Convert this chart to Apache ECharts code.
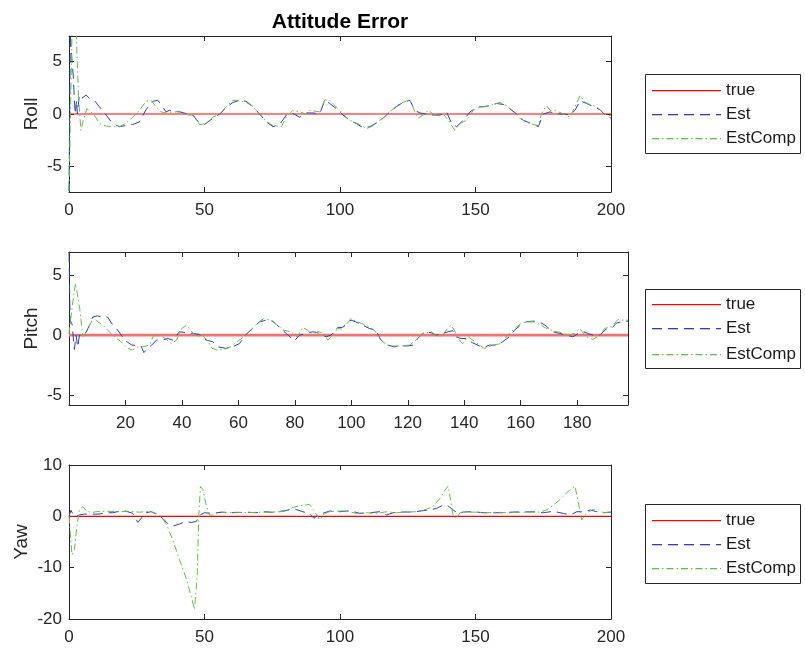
<!DOCTYPE html>
<html>
<head>
<meta charset="utf-8">
<script src="https://cdn.jsdelivr.net/npm/echarts@6/dist/echarts.min.js"></script>
<style>html,body{margin:0;padding:0;background:#fff;}#c{width:805px;height:652px;}</style>
</head>
<body>
<div id="c"></div>
<script>
// ---------- data ----------
const titleText = 'Attitude Error';
const seriesNames = ['true', 'Est', 'EstComp'];
const panelNames = ['Roll', 'Pitch', 'Yaw'];

const xRangeRoll = [0, 200];
const xRangePitch = [0, 198];
const xRangeYaw = [0, 200];
const yRangeRoll = [-7.4, 7.4];
const yRangePitch = [-5.8, 6.9];
const yRangeYaw = [-20, 10];

const xTicksRoll = [0, 50, 100, 150, 200];
const xTicksPitch = [20, 40, 60, 80, 100, 120, 140, 160, 180];
const xTicksYaw = [0, 50, 100, 150, 200];
const yTicksRoll = [-5, 0, 5];
const yTicksPitch = [-5, 0, 5];
const yTicksYaw = [-20, -10, 0, 10];

const trueRoll = [[0, 0], [200, 0]];
const truePitch = [[0, 0], [198, 0]];
const trueYaw = [[0, 0], [200, 0]];

const rollEst = [[0,-7.3],[0.5,7.6],[1.1,5.1],[1.6,3.5],[2.0,1.3],[2.3,0],[2.8,1.3],[3.1,0],[3.8,1.8],[4.8,1.5],[6.3,1.8],[7.5,1.5],[9.3,1.3],[11.3,0.66],[13.7,-0.1],[16.1,-0.9],[18.6,-1.2],[21,-1.1],[23.5,-1.0],[26,-0.75],[28.4,0.4],[30.9,1.2],[32.8,1.3],[34.6,0.66],[35.8,0.2],[37,0.35],[40.8,0.2],[43.2,0.05],[45.7,-0.1],[48.2,-0.9],[50,-1.0],[53.1,-0.4],[55.6,0],[58,0.6],[60.5,1.1],[63,1.3],[65.4,1.2],[67.9,0.7],[70.3,0],[72.8,-0.75],[75.3,-1.2],[77.7,-1.0],[80.2,-0.1],[82.6,0.05],[85.1,-0.3],[87.6,0.1],[90,0.1],[92.5,0],[94.4,1.3],[96.2,1.0],[98.7,0.5],[101.1,-0.1],[103.6,-0.6],[106,-0.9],[108.5,-1.3],[111,-1.2],[113.5,-0.85],[115.9,-0.4],[118.4,0.2],[120.8,0.7],[123.3,1.1],[125.8,1.3],[127.6,0.35],[129.5,0.1],[131.9,0],[134.4,-0.1],[136.9,-0.1],[139.3,0.2],[141.2,-0.9],[143,-1.2],[145.5,-0.6],[148,0.2],[150.4,0.65],[152.9,0.7],[155.4,0.8],[157.8,1.0],[160.3,0.9],[162.7,0.5],[165.2,0],[167.7,-0.6],[170.1,-0.85],[173.2,-1.2],[175,0],[177.5,0.2],[180,0],[182.4,0],[184.9,-0.1],[186.7,0.35],[188.6,1.25],[191,1.0],[193.5,0.7],[196,0.4],[197.8,-0.1],[200,-0.4]];

const rollComp = [[0,-7.3],[1.2,9],[2.5,9],[3.5,1.6],[4.4,-1.55],[5.3,-0.6],[6.6,0.5],[9.3,-0.1],[11.3,-0.9],[13.7,-1.15],[16.1,-1.2],[18.6,-1.2],[21,-0.9],[23.5,-0.3],[26,0.35],[28.4,1.2],[30.3,1.3],[32.2,0.65],[34,0.2],[35.8,0.1],[38.3,0.2],[41.4,0.2],[43.2,-0.1],[45.7,-0.1],[48.2,-1.0],[50.6,-0.9],[53.1,-0.3],[55.6,0],[58,0.7],[60.5,1.3],[62.3,1.3],[65.4,1.1],[67.9,0.7],[70.3,0],[72.8,-0.7],[75.3,-1.1],[78.4,-1.2],[80.2,-0.3],[82.6,0.35],[85.1,0.2],[87.6,0],[88.8,0.35],[92.5,0.2],[94.4,1.35],[96.2,1.3],[98.7,0.65],[101.1,0],[103.6,-0.6],[107.3,-1.0],[109.8,-1.4],[112.3,-1.1],[114.7,-0.6],[117.2,-0.1],[119.6,0.5],[122.1,1.0],[125.8,1.35],[127.6,0.2],[128.8,-0.4],[131.3,0],[132.5,0.35],[134.4,0],[136.3,-0.2],[138.1,0],[140,-0.6],[142.4,-1.55],[144.3,-0.9],[146.7,-0.6],[149.2,0.35],[151.6,0.65],[154,0.7],[156.5,0.9],[159,1.1],[161.5,0.8],[164,0.2],[166.5,-0.45],[169,-0.8],[171.5,-1.0],[173.2,-1.1],[174.3,0],[176.2,0.8],[177.5,0.35],[179.4,0.35],[182.4,0],[184.9,-0.3],[186.7,0.7],[188.6,1.75],[190.4,1.1],[192.3,0.9],[194.7,0.7],[197.2,0.1],[198.9,-0.2],[200,-0.1]];

const pitchEst = [[0,6.9],[0.4,1.24],[1.1,0.9],[1.9,-1.2],[2.5,0],[3.1,-1.0],[3.7,0],[5.5,0],[7.3,0.83],[8.4,1.5],[10,1.6],[11.8,1.5],[13.7,1.5],[15.5,0.83],[17.3,0.4],[18.5,0],[20.2,-0.5],[22.3,-0.83],[24.4,-0.85],[25.5,-0.9],[26.5,-1.45],[27.9,-1.1],[29.1,-0.87],[31,-0.41],[33.2,-0.41],[35,-0.28],[36.8,-0.41],[39.1,0.28],[41.5,0.2],[43.8,0.14],[46.2,0.06],[48.6,-0.41],[50.9,-0.55],[52.7,-0.97],[55.6,-1.1],[58,-0.97],[60.4,-0.7],[62.7,0.06],[65.1,0.55],[67.4,1.1],[69.8,1.24],[72.2,1.16],[74.6,0.64],[76.9,0.14],[79.9,-0.47],[81.6,0],[84,0.14],[86.3,0.28],[88.1,0.2],[91.1,-0.14],[92.8,0],[95.2,0.64],[96.9,0.64],[98.7,1.1],[99.9,1.24],[101.6,1.1],[104,0.83],[106.4,0.55],[108.7,0.41],[110.5,-0.41],[112.9,-0.83],[115.2,-0.97],[117.6,-0.9],[120,-0.9],[121.8,-0.83],[123.5,-0.28],[125.9,0.28],[128.3,0.2],[130,0],[132.4,0.14],[134.2,0.28],[135.9,0.36],[137.1,-0.14],[138.9,-0.28],[140.7,-0.28],[143,-0.64],[145.4,-0.9],[147.1,-1.0],[148.9,-0.83],[151.3,-0.83],[153.6,-0.55],[156,-0.14],[157.8,0.41],[159.6,0.76],[161.9,1.1],[164.3,1.16],[166.7,1.1],[169,0.76],[171.4,0.28],[173.8,0.14],[176.1,0],[178.5,-0.14],[180.3,0.14],[182.1,0.28],[183.8,0.14],[185.6,0],[188,0],[190.3,0.5],[192.1,0.55],[193.9,1.0],[195.7,1.1],[198,1.16]];

const pitchComp = [[0,0.1],[1.2,2.5],[2.3,4.3],[3.7,2.4],[4.9,-0.1],[6.1,0.1],[7.3,0.83],[8.8,1.5],[10.2,1.1],[12,0.83],[13.7,0.41],[16.1,-0.14],[18.5,-0.55],[20.8,-1.1],[22.6,-1.24],[24.4,-0.97],[26.1,-0.97],[28.5,-0.83],[29.7,-0.14],[30.9,0.14],[32.7,-0.07],[34.5,-0.35],[36.3,-0.7],[38.1,-0.41],[39.9,0.55],[41.7,0.83],[43.5,0.28],[45.3,-0.14],[47.1,0],[48.9,-0.41],[50.7,-1.1],[52.5,-1.24],[54.8,-1.2],[57.2,-0.97],[59.6,-0.55],[61.9,-0.14],[64.3,0.41],[66.7,0.97],[69,1.38],[71.4,1.24],[73.8,0.83],[76.1,0.41],[78.5,0.28],[80.9,-0.14],[82.7,0.64],[84.5,0.41],[86.3,0],[88.1,0.3],[89.5,0.2],[91.7,-0.41],[93.4,0],[95.2,0.55],[96.9,0.5],[99.9,1.38],[102.2,1.1],[105.2,0.83],[108.1,0.41],[111.1,-0.55],[113.5,-0.9],[117,-0.9],[120.6,-0.83],[122.9,-0.41],[125.3,0.14],[128.3,0.28],[130.6,-0.14],[132.4,0],[133.6,0.41],[135.3,0.83],[136.5,0.41],[137.7,-0.28],[139.5,-0.7],[141.3,-0.14],[143,-0.41],[145.4,-0.83],[147.1,-1.1],[150.1,-0.83],[153,-0.7],[155.4,0],[157.8,0.55],[160.1,0.97],[162.5,1.1],[165.5,1.1],[168.4,0.64],[171.4,0.36],[174.4,0.2],[176.7,0],[179.1,0.14],[180.9,0.55],[183.2,-0.14],[185.6,-0.35],[188,0],[189.7,0.55],[192.1,0.7],[194.5,1.3],[196.3,1.24],[198,1.24]];

const yawEst = [[0,0],[0.7,1.2],[1.6,0.26],[2.6,0],[3.8,0.26],[5.7,0.45],[8.1,0.4],[11.1,0.45],[13.7,0.7],[16.1,0.7],[18.6,1.0],[21,1.0],[23.5,0.6],[25.4,-1.2],[26.6,-0.4],[28.4,0.7],[30.3,0.9],[32.2,0.45],[34.6,-0.4],[36.4,-1.4],[38.3,-1.9],[40.8,-1.5],[43.2,-1.0],[45.1,-1.2],[47,-1.0],[48.2,0.26],[50,0.7],[51.8,0.6],[54.3,0.7],[57,0.8],[60,0.7],[63,0.75],[66,0.8],[69,0.7],[72,0.9],[75,0.8],[78,1.0],[80,1.1],[82.6,1.55],[86.3,0.9],[88.8,0.5],[90.4,-0.4],[91.8,0.26],[93.6,0.58],[96.2,1.03],[99.9,0.9],[103.6,1.1],[107.3,0.58],[111,0.7],[114.7,0.9],[117.2,0.26],[119.6,0.7],[123.3,0.84],[127,0.84],[130.7,1.1],[133.2,1.23],[135.6,1.55],[138.1,2.2],[139.9,2.0],[141.8,1.23],[143.6,0.58],[145.5,0.84],[149.2,0.9],[152.9,0.7],[156.6,0.7],[160.3,0.7],[164,0.84],[167.7,0.84],[171.4,0.9],[175,0.7],[178.7,0.97],[182.4,0.58],[184.9,0.26],[187.4,0.9],[189.8,0.9],[192.3,1.23],[194.8,0.9],[197.3,0.7],[200,0.84]];

const yawComp = [[0,0],[1.1,-7.5],[2,-6.5],[2.9,-2.0],[3.8,1.2],[5,1.9],[6.3,1.2],[8.1,0.7],[10,0.9],[14,1.0],[18,0.9],[22,1.0],[26,0.8],[30,1.0],[33.4,0.3],[35.8,-1.4],[38.3,-4.6],[40.8,-8.5],[43.2,-12.0],[45.1,-15.6],[46.3,-18.1],[47.3,-11.7],[47.9,0],[48.5,5.8],[49.4,5.25],[50.6,2.2],[51.8,0.26],[53.6,0.26],[55.6,0.9],[58,0.7],[62,0.8],[66,0.7],[70,0.8],[74,0.8],[78,0.9],[80.5,1.0],[82.6,1.75],[86.3,2.2],[88.8,2.3],[90.7,0.9],[92.5,-0.7],[94.4,0.58],[96.2,0.9],[98.7,1.03],[102.4,1.03],[106.1,0.58],[109.8,0.7],[113.5,0.58],[117.2,0.9],[120.8,0.7],[124.5,0.84],[128.2,0.9],[131.9,1.36],[134.4,2.0],[136.9,3.5],[138.7,5.1],[139.9,5.9],[140.8,3.2],[141.8,-0.07],[143,-0.4],[144.3,0.7],[146.7,0.84],[150,0.8],[154,0.7],[158,0.8],[162,0.7],[166,0.8],[170,0.8],[173.8,0.84],[176.2,1.23],[178.7,2.2],[181.1,3.2],[183.6,4.6],[186.7,5.9],[187.9,2.85],[189.2,-0.7],[191,0.7],[193.5,1.36],[195.4,1.23],[197.3,0.7],[200,0.84]];

// ---------- styling / layout ----------
const FONT = '"Liberation Sans", Arial, Helvetica, sans-serif';
const AX = '#262626';
const C_TRUE = '#ff0000';
const C_EST = '#2643bd';
const C_COMP = '#5ec43a';
const DASH = [10, 6];
const DASHDOT = [7, 3, 1.5, 3];

const panels = [
  {name: panelNames[0], grid: {left: 69, top: 36, width: 542, height: 156}, xr: xRangeRoll, yr: yRangeRoll, xt: xTicksRoll, yt: yTicksRoll, tr: trueRoll, est: rollEst, comp: rollComp, nameGap: 27.5, trueStyle: {color: C_TRUE, width: 1.2}},
  {name: panelNames[1], grid: {left: 69, top: 252, width: 559, height: 153}, xr: xRangePitch, yr: yRangePitch, xt: xTicksPitch, yt: yTicksPitch, tr: truePitch, est: pitchEst, comp: pitchComp, nameGap: 27.5, trueStyle: {color: '#f07272', width: 2.6}},
  {name: panelNames[2], grid: {left: 69, top: 465, width: 542, height: 154}, xr: xRangeYaw, yr: yRangeYaw, xt: xTicksYaw, yt: yTicksYaw, tr: trueYaw, est: yawEst, comp: yawComp, nameGap: 38, trueStyle: {color: C_TRUE, width: 1.2}}
];

const legendStyles = [
  {color: C_TRUE, dash: null},
  {color: C_EST, dash: DASH},
  {color: C_COMP, dash: DASHDOT}
];

// filled segments for the legend samples
function sampleSegments(x0, x1, dash) {
  if (!dash) return [[x0, x1]];
  const segs = [];
  let x = x0, k = 0;
  while (x < x1) {
    const len = dash[k % dash.length];
    if (k % 2 === 0) segs.push([x, Math.min(x + len, x1)]);
    x += len; k++;
  }
  return segs;
}

const grids = [], xAxes = [], yAxes = [], series = [], graphics = [];
const boxTops = [74, 289, 504];

panels.forEach((p, i) => {
  grids.push(Object.assign({containLabel: false}, p.grid));
  const common = {
    gridIndex: i, type: 'value', splitLine: {show: false},
    axisLine: {show: true, onZero: false, lineStyle: {color: AX, width: 1}},
  };
  xAxes.push(Object.assign({}, common, {
    position: 'bottom', min: p.xr[0], max: p.xr[1],
    axisTick: {show: true, inside: true, length: 5, lineStyle: {color: AX}, customValues: p.xt},
    axisLabel: {show: true, color: AX, fontSize: 17, fontFamily: FONT, margin: 10, customValues: p.xt, formatter: v => String(v)}
  }));
  xAxes.push(Object.assign({}, common, {
    position: 'top', min: p.xr[0], max: p.xr[1],
    axisTick: {show: true, inside: true, length: 5, lineStyle: {color: AX}, customValues: p.xt},
    axisLabel: {show: false}
  }));
  yAxes.push(Object.assign({}, common, {
    position: 'left', min: p.yr[0], max: p.yr[1],
    name: p.name, nameLocation: 'middle', nameGap: p.nameGap, nameMoveOverlap: false,
    nameTextStyle: {color: AX, fontSize: 19, fontFamily: FONT},
    axisTick: {show: true, inside: true, length: 5, lineStyle: {color: AX}, customValues: p.yt},
    axisLabel: {show: true, color: AX, fontSize: 17, fontFamily: FONT, margin: 7, customValues: p.yt, formatter: v => String(v)}
  }));
  yAxes.push(Object.assign({}, common, {
    position: 'right', min: p.yr[0], max: p.yr[1],
    axisTick: {show: true, inside: true, length: 5, lineStyle: {color: AX}, customValues: p.yt},
    axisLabel: {show: false}
  }));
  const xi = i * 2, yi = i * 2;
  const base = {type: 'line', xAxisIndex: xi, yAxisIndex: yi, showSymbol: false, symbol: 'none', clip: true, animation: false, silent: true};
  series.push(Object.assign({}, base, {name: seriesNames[1], data: p.est, lineStyle: {color: C_EST, width: 1, type: DASH}, itemStyle: {color: C_EST}, z: 3}));
  series.push(Object.assign({}, base, {name: seriesNames[2], data: p.comp, lineStyle: {color: C_COMP, width: 1, type: DASHDOT}, itemStyle: {color: C_COMP}, z: 4}));
  series.push(Object.assign({}, base, {name: seriesNames[0], data: p.tr, lineStyle: Object.assign({type: 'solid'}, p.trueStyle), itemStyle: {color: C_TRUE}, z: 2}));

  // legend box drawn by hand
  const bt = boxTops[i];
  graphics.push({type: 'rect', z: 10, shape: {x: 645.5, y: bt + 0.5, width: 155, height: 79}, style: {fill: '#ffffff', stroke: AX, lineWidth: 1}});
  seriesNames.forEach((nm, k) => {
    const cy = bt + 15.5 + k * 24.5;
    const ry = 2 * Math.round((cy - 0.5) / 2);
    const ls = legendStyles[k];
    sampleSegments(652, 721, ls.dash).forEach(s => {
      graphics.push({type: 'rect', z: 11, shape: {x: s[0], y: ry, width: s[1] - s[0], height: 1.3}, style: {fill: ls.color, stroke: null, lineWidth: 0}});
    });
    graphics.push({type: 'text', z: 12, x: 726, y: ry + 0.5, style: {text: nm, font: '17px ' + FONT, fill: '#1a1a1a', verticalAlign: 'middle', align: 'left'}});
  });
});

const chart = echarts.init(document.getElementById('c'), null, {renderer: 'canvas'});
chart.setOption({
  animation: false,
  backgroundColor: '#ffffff',
  title: {text: titleText, left: 335, top: 7, textAlign: 'center', textStyle: {fontSize: 21, fontWeight: 'bold', color: '#000', fontFamily: FONT}},
  grid: grids, xAxis: xAxes, yAxis: yAxes, series: series,
  graphic: {elements: graphics}
});
</script>
</body>
</html>
